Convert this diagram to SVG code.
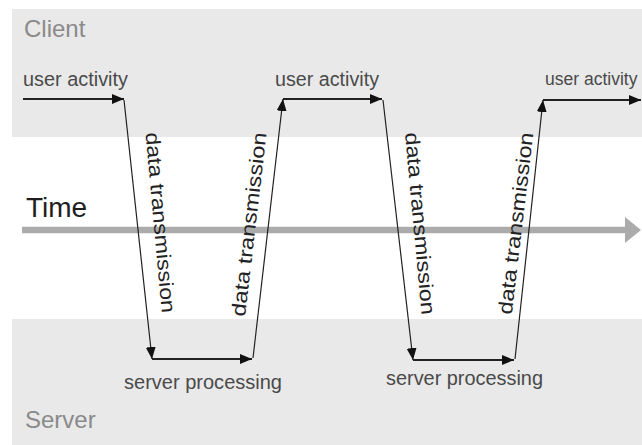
<svg xmlns="http://www.w3.org/2000/svg" width="642" height="445" viewBox="0 0 642 445">
  <style>
    .lane { fill: #e9e9e9; }
    .lane-title { font-family: "Liberation Sans", Arial, sans-serif; font-size: 24px; fill: #8a8a8a; }
    .label { font-family: "Liberation Sans", Arial, sans-serif; font-size: 20px; fill: #4a4a4a; }
    .tx { font-family: "Liberation Sans", Arial, sans-serif; font-size: 20px; fill: #222; }
    .time-title { font-family: "Liberation Sans", Arial, sans-serif; font-size: 28px; fill: #1e1e1e; }
    .flow { fill: none; stroke: #222; stroke-width: 2; marker-end: url(#head); }
    .diag { fill: none; stroke: #222; stroke-width: 1.2; marker-end: url(#head); }
  </style>
  <defs>
    <marker id="head" markerWidth="13" markerHeight="11" refX="12" refY="5" orient="auto" markerUnits="userSpaceOnUse">
      <path d="M0,0 L12,5 L0,10 z" fill="#111"/>
    </marker>
  </defs>

  <rect width="642" height="445" fill="#fff"/>

  <!-- swimlanes -->
  <g id="client-lane">
    <rect class="lane" x="12" y="9" width="630" height="128"/>
    <text class="lane-title" x="24" y="37">Client</text>
  </g>
  <g id="server-lane">
    <rect class="lane" x="12" y="319" width="630" height="126"/>
    <text class="lane-title" x="25" y="428">Server</text>
  </g>

  <!-- time axis -->
  <g id="time-axis">
    <line x1="22" y1="230" x2="628" y2="230" stroke="#ababab" stroke-width="6.5"/>
    <polygon points="625,217 641,230 625,243" fill="#ababab"/>
    <text class="time-title" x="26" y="217">Time</text>
  </g>

  <!-- activity labels -->
  <g id="user-activity-1"><text class="label" x="23" y="86" textLength="105" lengthAdjust="spacingAndGlyphs">user activity</text></g>
  <g id="user-activity-2"><text class="label" x="275" y="86" textLength="104" lengthAdjust="spacingAndGlyphs">user activity</text></g>
  <g id="user-activity-3"><text class="label" x="545" y="85" style="font-size:17.5px">user activity</text></g>
  <g id="server-processing-1"><text class="label" x="124" y="389" textLength="158" lengthAdjust="spacingAndGlyphs">server processing</text></g>
  <g id="server-processing-2"><text class="label" x="386" y="385" textLength="157" lengthAdjust="spacingAndGlyphs">server processing</text></g>

  <!-- transmission labels, aligned with their connectors -->
  <g id="transmission-1"><text class="tx" transform="translate(145.5,133) rotate(84.8)" textLength="181" lengthAdjust="spacingAndGlyphs">data transmission</text></g>
  <g id="transmission-2"><text class="tx" transform="translate(245,317) rotate(-83.3)" textLength="185" lengthAdjust="spacingAndGlyphs">data transmission</text></g>
  <g id="transmission-3"><text class="tx" transform="translate(405,133) rotate(84.8)" textLength="183" lengthAdjust="spacingAndGlyphs">data transmission</text></g>
  <g id="transmission-4"><text class="tx" transform="translate(511.7,315) rotate(-83.2)" textLength="183" lengthAdjust="spacingAndGlyphs">data transmission</text></g>

  <!-- connectors -->
  <g id="connectors">
    <path class="flow" d="M23,99 L124,99"/>
    <path class="diag" d="M124,100 L152,359"/>
    <path class="flow" d="M152,359 L252,359"/>
    <path class="diag" d="M253,358 L283,99"/>
    <path class="flow" d="M283,99 L382,99"/>
    <path class="diag" d="M383,100 L413,360"/>
    <path class="flow" d="M413,360 L514,360"/>
    <path class="diag" d="M515,359 L543,100"/>
    <path class="flow" d="M543,100 L641,100"/>
  </g>
</svg>
